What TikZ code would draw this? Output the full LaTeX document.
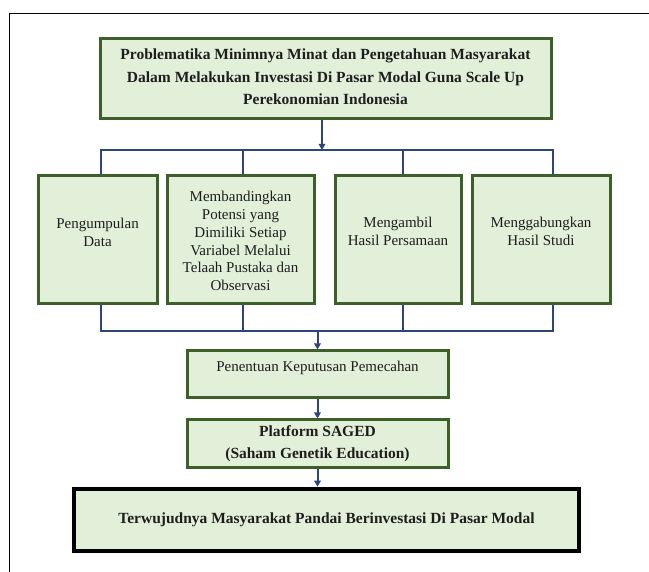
\documentclass[tikz,border=0pt]{standalone}
\usepackage{fontspec}
\setmainfont{Liberation Serif}
\usetikzlibrary{arrows.meta}
\definecolor{boxfill}{HTML}{E2EFD9}
\definecolor{boxline}{HTML}{3D5F2A}
\definecolor{conn}{HTML}{2E4677}
\definecolor{txt}{HTML}{1E1E1E}
\begin{document}
\begin{tikzpicture}[x=1pt,y=-1pt,
  gbox/.style={draw=boxline,fill=boxfill,line width=3pt,rectangle,inner sep=0pt},
  kbox/.style={draw=black,fill=boxfill,line width=4.5pt,rectangle,inner sep=0pt},
  lbl/.style={align=center,text=txt,inner sep=0pt},
  rowtxt/.style={lbl,font=\fontsize{15}{17.8}\selectfont},
  boldtxt/.style={lbl,font=\fontsize{15.5}{22.5}\selectfont\bfseries},
  wire/.style={draw=conn,line width=2pt},
  arr/.style={wire,-{Triangle[length=6pt,width=6.5pt]}}]
\useasboundingbox (0,0) rectangle (649,572);
\fill[white] (0,0) rectangle (649,572);
% page frame
\draw[line width=1pt] (9,572) -- (9,14) -- (649,14);

% top box
\node[gbox,minimum width=451pt,minimum height=80pt] (top) at (325.5,79) {};
\node[boldtxt] (toptxt) at (325.5,77) {Problematika Minimnya Minat dan Pengetahuan Masyarakat\\Dalam Melakukan Investasi Di Pasar Modal Guna Scale Up\\Perekonomian Indonesia};

% row boxes
\node[gbox,minimum width=119pt,minimum height=128pt] (b1) at (97.5,240) {};
\node[rowtxt] (b1t) at (97.5,232) {Pengumpulan\\Data};
\node[gbox,minimum width=147pt,minimum height=128pt] (b2) at (240.5,240) {};
\node[rowtxt] (b2t) at (240.5,241) {Membandingkan\\Potensi yang\\Dimiliki Setiap\\Variabel Melalui\\Telaah Pustaka dan\\Observasi};
\node[gbox,minimum width=126pt,minimum height=128pt] (b3) at (398,240) {};
\node[rowtxt] (b3t) at (398,231) {Mengambil\\Hasil Persamaan};
\node[gbox,minimum width=138pt,minimum height=128pt] (b4) at (541,240) {};
\node[rowtxt] (b4t) at (541,231) {Menggabungkan\\Hasil Studi};

% lower boxes
\node[gbox,minimum width=261pt,minimum height=47pt] (dec) at (317.5,374.5) {};
\node[rowtxt] (dect) at (317.5,368) {Penentuan Keputusan Pemecahan};
\node[gbox,minimum width=261pt,minimum height=48pt] (saged) at (317.5,444) {};
\node[boldtxt,font=\fontsize{15.5}{22}\selectfont\bfseries] (sagedt) at (317.5,444) {Platform SAGED\\(Saham Genetik Education)};
\node[kbox,minimum width=505pt,minimum height=62pt] (goal) at (326.5,520) {};
\node[boldtxt] (goalt) at (326.5,520) {Terwujudnya Masyarakat Pandai Berinvestasi Di Pasar Modal};

% upper bus
\coordinate (ua) at (322,150);
\coordinate (u1) at (101,150);
\coordinate (u2) at (243,150);
\coordinate (u3) at (403,150);
\coordinate (u4) at (553,150);
\draw[arr] (top.south -| ua) -- (ua);
\draw[wire,line cap=rect] (u1) -- (u4);
\draw[wire] (u1) -- (u1 |- b1.north);
\draw[wire] (u2) -- (u2 |- b2.north);
\draw[wire] (u3) -- (u3 |- b3.north);
\draw[wire] (u4) -- (u4 |- b4.north);

% lower bus
\coordinate (l1) at (101,331);
\coordinate (l2) at (243,331);
\coordinate (l3) at (403,331);
\coordinate (l4) at (553,331);
\coordinate (la) at (317.5,331);
\draw[wire,line cap=rect] (l1) -- (l4);
\draw[wire] (l1 |- b1.south) -- (l1);
\draw[wire] (l2 |- b2.south) -- (l2);
\draw[wire] (l3 |- b3.south) -- (l3);
\draw[wire] (l4 |- b4.south) -- (l4);
\draw[arr] (la) -- (dec.north);
\draw[arr] (dec.south) -- (saged.north);
\draw[arr] (saged.south) -- (saged.south |- goal.north);
\end{tikzpicture}
\end{document}
